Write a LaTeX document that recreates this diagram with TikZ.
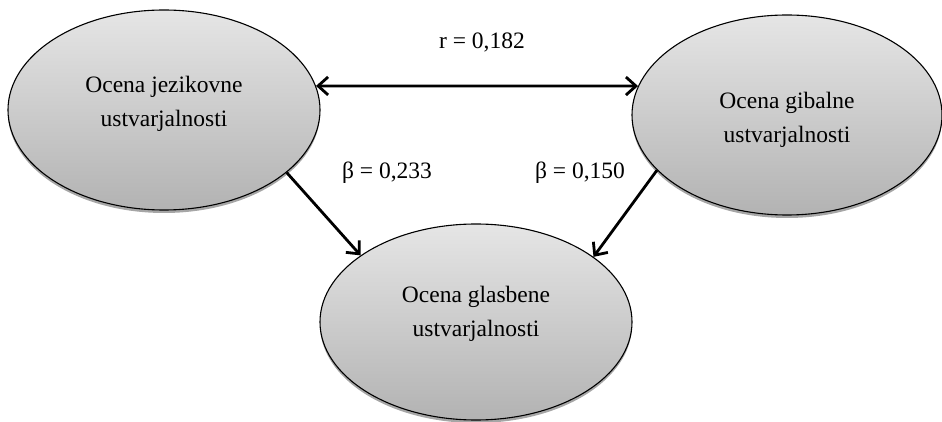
\documentclass[tikz,border=0pt]{standalone}
\usepackage{fontspec}
\setmainfont{Liberation Serif}
\usetikzlibrary{shapes.geometric,arrows.meta,shadows}
\begin{document}
\begin{tikzpicture}[x=1pt,y=-1pt,
  oval/.style={ellipse, draw=black, line width=1.1pt, inner sep=0pt,
    minimum width=312pt, minimum height=200pt,
    top color=gray!20, bottom color=gray!60,
    drop shadow={shadow xshift=0pt, shadow yshift=-3pt, opacity=0.35, fill=black},
    font=\fontsize{23.5}{31}\selectfont, align=center},
  link/.style={line width=2.8pt, -{Straight Barb[length=10pt,width=18pt,line width=2.8pt]}},
  twoway/.style={line width=2.8pt, {Straight Barb[length=10pt,width=18pt,line width=2.8pt]}-{Straight Barb[length=10pt,width=18pt,line width=2.8pt]}},
  coef/.style={font=\fontsize{23.5}{28}\selectfont}
]
\useasboundingbox (0,0) rectangle (942,422);
\node[oval] (L) at (164,110) {\raisebox{0pt}[0pt][0pt]{\begin{tabular}{@{}c@{}}Ocena jezikovne\\[3pt] ustvarjalnosti\end{tabular}}};
\node[oval, minimum width=310pt] (R) at (787,115) {\raisebox{-11pt}[0pt][0pt]{\begin{tabular}{@{}c@{}}Ocena gibalne\\[3pt] ustvarjalnosti\end{tabular}}};
\node[oval, minimum height=196pt] (B) at (476,322) {\raisebox{2pt}[0pt][0pt]{\begin{tabular}{@{}c@{}}Ocena glasbene\\[3pt] ustvarjalnosti\end{tabular}}};
\draw[twoway] (L.9) -- (R.169);
\draw[link] (L.-27) -- (B.150);
\draw[link] (R.203) -- (B.29);
\node[coef] (r) at (482,42) {r = 0,182};
\node[coef] (b1) at (387,173) {β = 0,233};
\node[coef] (b2) at (580,173) {β = 0,150};
\end{tikzpicture}
\end{document}
